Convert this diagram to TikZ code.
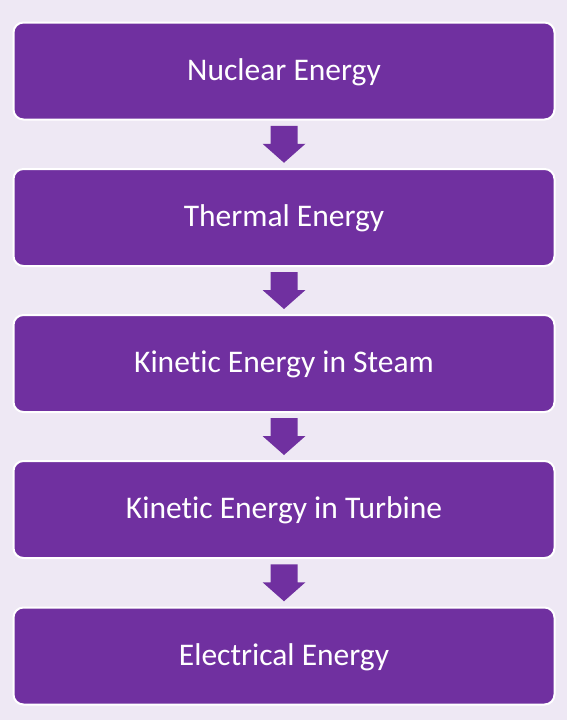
\documentclass[tikz,border=0pt]{standalone}
\usepackage{fontspec}
\setmainfont{Carlito}[RawFeature=-liga]
\usetikzlibrary{calc}
\definecolor{bgc}{HTML}{EEE8F4}
\definecolor{purp}{HTML}{7030A0}
\begin{document}
\begin{tikzpicture}[x=1pt,y=-1pt,
  box/.style={draw=white, line width=2pt, fill=purp, rounded corners=10pt,
    minimum width=541pt, minimum height=97pt, inner sep=0pt,
    text height=24pt, text depth=6pt,
    text=white, font=\fontsize{31.5}{36}\selectfont},
  arr/.style={fill=purp, draw=none}]
\fill[bgc] (0,0) rectangle (567,720);
\useasboundingbox (0,0) rectangle (567,720);
\node[box] (b1) at (284,71) {Nuclear Energy};
\node[box] (b2) at (284,217.5) {Thermal Energy};
\node[box] (b3) at (284,363.5) {Kinetic Energy in Steam};
\node[box] (b4) at (284,509.5) {Kinetic Energy in Turbine};
\node[box] (b5) at (284,656) {Electrical Energy};
\foreach \a/\b in {b1/b2,b2/b3,b3/b4,b4/b5}{
  \path ($(\a.south)!0.5!(\b.north)$) coordinate (m\a);
  \fill[arr] ([xshift=-13.5pt,yshift=18.5pt]m\a) -- ([xshift=13.5pt,yshift=18.5pt]m\a)
    -- ([xshift=13.5pt,yshift=0.5pt]m\a) -- ([xshift=21.5pt,yshift=0.5pt]m\a)
    -- ([yshift=-18.5pt]m\a) -- ([xshift=-21.5pt,yshift=0.5pt]m\a)
    -- ([xshift=-13.5pt,yshift=0.5pt]m\a) -- cycle;
}
\end{tikzpicture}
\end{document}
